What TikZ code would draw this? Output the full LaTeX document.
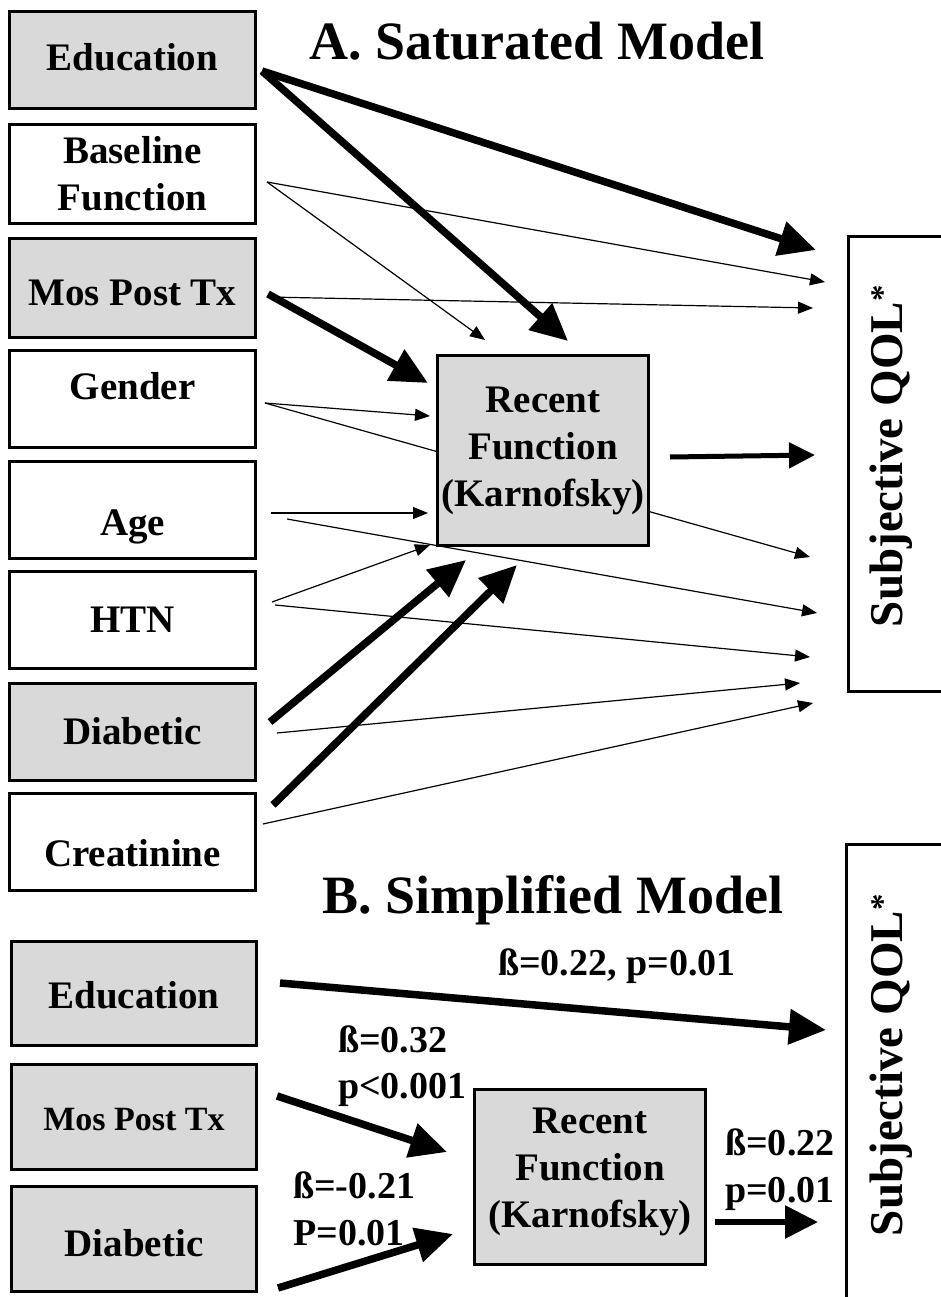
\documentclass[tikz,border=0pt]{standalone}
\usepackage{fontspec}
\setmainfont{Liberation Serif}
\usetikzlibrary{arrows.meta,calc,backgrounds}
\newcommand\liftby[2]{\raisebox{#1}[\height][\depth]{#2}}
\begin{document}
\begin{tikzpicture}[x=1pt,y=-1pt,
  box/.style={draw, line width=3pt, minimum width=246pt, minimum height=97pt, inner sep=0pt, align=center, font=\fontsize{39}{47}\selectfont\bfseries},
  greybox/.style={fill=black!15},
  whitebox/.style={fill=white},
  recbox/.style={draw, line width=3pt, fill=black!15, inner sep=0pt, align=center, font=\fontsize{39}{47}\selectfont\bfseries},
  qolbox/.style={draw, line width=3pt, fill=white, inner sep=0pt, minimum width=120pt},
  qoltext/.style={rotate=90, font=\fontsize{47}{50}\selectfont\bfseries},
  title/.style={anchor=base, font=\fontsize{54}{60}\selectfont\bfseries},
  coef/.style={anchor=base west, inner sep=0pt, font=\fontsize{38}{44}\selectfont\bfseries},
  thinarrow/.style={line width=1.2pt, -{Triangle[length=15pt,width=12pt]}},
  thickarrow/.style={line width=7.5pt, -{Triangle[length=37pt,width=34pt]}},
  midarrow/.style={line width=5pt, -{Triangle[length=26pt,width=25pt]}},
  midarrowB/.style={line width=6pt, -{Triangle[length=33pt,width=32pt]}}
]
\useasboundingbox (0,0) rectangle (941,1297);

% ---------- A. Saturated model ----------
\node[title] (titleA) at (537,60) {A. Saturated Model};

\node[box,greybox,minimum height=97pt] (eduA) at (132.5,60) {\liftby{3pt}{Education}};
\node[box,whitebox,minimum height=99pt] (baseA) at (132.5,174) {Baseline\\Function};
\node[box,greybox,minimum height=99pt] (mosA) at (132.5,288) {\liftby{-5pt}{Mos Post Tx}};
\node[box,whitebox] (genA) at (132.5,399) {\liftby{13pt}{Gender}};
\node[box,whitebox] (ageA) at (132.5,509.5) {\liftby{-17pt}{Age}};
\node[box,whitebox] (htnA) at (132.5,620) {HTN};
\node[box,greybox] (diaA) at (132.5,731.5) {Diabetic};
\node[box,whitebox] (creA) at (132.5,842) {\liftby{-11pt}{Creatinine}};

\node[recbox, minimum width=211pt, minimum height=190pt] (recA) at (543,450.5) {Recent\\Function\\(Karnofsky)};

\node[qolbox, minimum height=455pt] (qolA) at (908.5,464) {};
\node[qoltext] (qolAt) at (891,456) {Subjective QOL\textsuperscript{*}};

\begin{pgfonlayer}{background}
\draw[thickarrow] ($(eduA.east)+(5,11)$) -- ($(qolA.north west)+(-31,15)$);
\draw[thickarrow] ($(eduA.east)+(5,11)$) -- ($(recA.north)+(25,-13)$);
\draw[thinarrow] ($(baseA.east)+(10,8)$) -- ($(qolA.north west)+(-22,47)$);
\draw[thinarrow] ($(baseA.east)+(10,8)$) -- ($(recA.north)+(-58,-14)$);
\draw[thinarrow] ($(mosA.east)+(11,9)$) -- ($(qolA.north west)+(-34,73)$);
\draw[thickarrow] ($(mosA.east)+(11,6)$) -- ($(recA.north west)+(-8,29)$);
\draw[thinarrow] ($(genA.east)+(8,4)$) -- ($(recA.north west)+(-6,62)$);
\draw[thinarrow] ($(genA.east)+(8,4)$) -- ($(qolA.north west)+(-37,322)$);
\draw[thinarrow] ($(ageA.east)+(14,3.5)$) -- ($(recA.south west)+(-8,-34)$);
\draw[thinarrow] ($(ageA.east)+(30,9.5)$) -- ($(qolA.north west)+(-30,378)$);
\draw[thinarrow] ($(htnA.east)+(15,-18)$) -- ($(recA.south west)+(-6,-2)$);
\draw[thinarrow] ($(htnA.east)+(18,-15)$) -- ($(qolA.north west)+(-37,422)$);
\draw[thickarrow] ($(diaA.east)+(13,-9.5)$) -- ($(recA.south west)+(30,13)$);
\draw[thinarrow] ($(diaA.east)+(20,1.5)$) -- ($(qolA.north west)+(-47,448)$);
\draw[thickarrow] ($(creA.east)+(16,-37)$) -- ($(recA.south west)+(81,18)$);
\draw[thinarrow] ($(creA.east)+(6,-18)$) -- ($(qolA.north west)+(-34,468)$);
\draw[midarrow] ($(recA.east)+(20,6.5)$) -- ($(qolA.north west)+(-32,220)$);
\end{pgfonlayer}

% ---------- B. Simplified model ----------
\node[title] (titleB) at (553,913) {B. Simplified Model};

\node[box,greybox,minimum width=245pt,minimum height=104pt] (eduB) at (134,993.5) {\liftby{-2pt}{Education}};
\node[box,greybox,minimum width=245pt,minimum height=105pt,font=\fontsize{34}{42}\selectfont\bfseries] (mosB) at (134,1117) {\liftby{-3pt}{Mos Post Tx}};
\node[box,greybox,minimum width=245pt,minimum height=105pt] (diaB) at (134,1239) {\liftby{-4pt}{Diabetic}};

\node[recbox, minimum width=231pt, minimum height=175pt] (recB) at (590,1177) {\liftby{6pt}{\begin{tabular}{@{}c@{}}Recent\\Function\\(Karnofsky)\end{tabular}}};

\node[qolbox, minimum height=500pt] (qolB) at (906.5,1094.5) {};
\node[qoltext] (qolBt) at (891,1065) {Subjective QOL\textsuperscript{*}};

\draw[thickarrow] ($(eduB.east)+(22,-10.5)$) -- ($(qolB.north west)+(-19,187)$);
\draw[thickarrow] ($(mosB.east)+(19,-21)$) -- ($(recB.west)+(-26,-25)$);
\draw[thickarrow] ($(diaB.east)+(20,49)$) -- ($(recB.west)+(-20,57)$);
\draw[midarrowB] ($(recB.east)+(8,45)$) -- ($(qolB.north west)+(-27,379)$);

\node[coef] (c1) at (498,975) {ß=0.22, p=0.01};
\node[coef] (c2) at (338,1052) {ß=0.32};
\node[coef] (c3) at (338,1098) {p<0.001};
\node[coef] (c4) at (293,1198) {ß=-0.21};
\node[coef] (c5) at (293,1245) {P=0.01};
\node[coef] (c6) at (725,1155) {ß=0.22};
\node[coef] (c7) at (725,1202) {p=0.01};
\end{tikzpicture}
\end{document}
